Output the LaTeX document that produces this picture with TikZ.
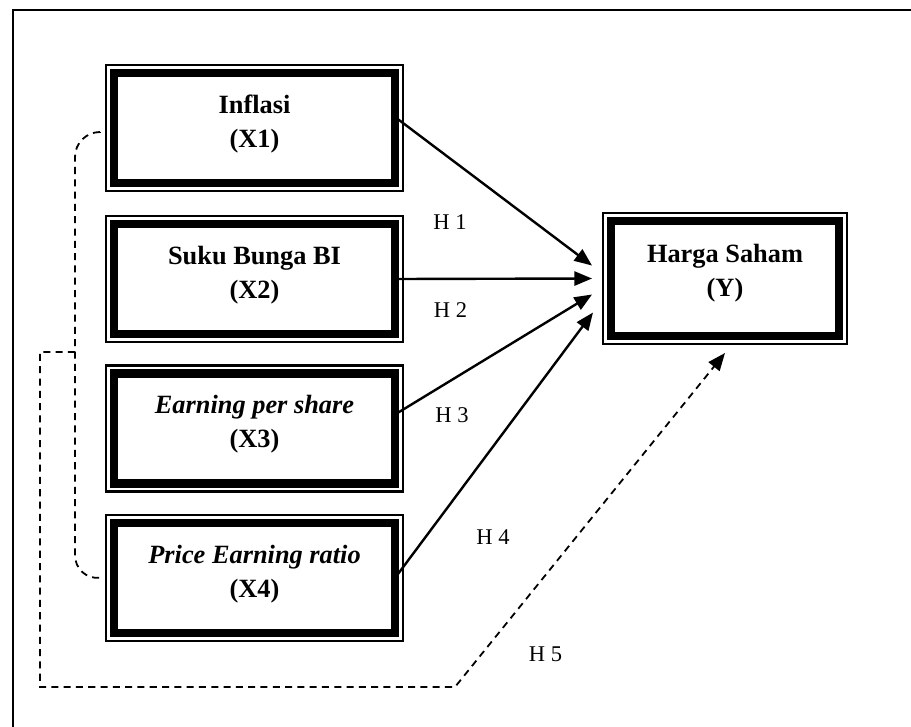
\documentclass[tikz,border=0pt]{standalone}
\usepackage{fontspec}
\setmainfont{Liberation Serif}
\usepackage{tikz}
\usetikzlibrary{arrows.meta}

\begin{document}
\begin{tikzpicture}[varbox/.style={draw, line width=0.174cm, minimum width=5.62cm, minimum height=2.2cm,
					inner sep=0pt, outer sep=0pt, align=center, text depth=8pt,
					font=\fontsize{15}{19.3}\selectfont\bfseries},
					outerline/.style={draw, line width=0.046cm},
					hyp/.style={font=\fontsize{12.8}{15}\selectfont, inner sep=0pt},
					dashline/.style={dash pattern=on 4pt off 3pt, line width=0.036cm},
					x=1cm, y=1cm, >={Triangle[length=10pt,width=8pt]}]   %Pfeilspitzen
	\useasboundingbox (0,0) rectangle (18.22,-14.52);
	\clip (0,0) rectangle (18.22,-14.52);
	\draw[line width=0.035cm] (0.26,-0.2) rectangle (19,-15);
	\node[varbox] (x1) at (5.09,-2.56) {Inflasi\\(X1)};
	\node[varbox] (x2) at (5.09,-5.58) {Suku Bunga BI\\(X2)};
	\node[varbox] (x3) at (5.09,-8.57) {\textit{Earning per share}\\(X3)};
	\node[varbox] (x4) at (5.09,-11.56) {\textit{Price Earning ratio}\\(X4)};
	\node[varbox, minimum width=4.56cm, minimum height=2.3cm, text depth=9pt] (y) at (14.5,-5.57) {Harga Saham\\(Y)};
	\foreach \n in {x1,x2,x3,x4,y}
		\draw[outerline] ([shift={(-0.16,0.16)}]\n.north west) rectangle ([shift={(0.16,-0.16)}]\n.south east);
	\draw[->, line width=0.048cm] ([yshift=0.22cm]x1.east) -- ([xshift=-0.38cm,yshift=0.26cm]y.west);
	\draw[->, line width=0.048cm] (x2.east) -- ([xshift=-0.38cm]y.west);
	\draw[->, line width=0.048cm] ([yshift=0.28cm]x3.east) -- ([xshift=-0.38cm,yshift=-0.32cm]y.west);
	\draw[->, line width=0.048cm] (x4.east) -- ([xshift=-0.36cm,yshift=-0.68cm]y.west);
	\draw[dashline, rounded corners=0.5cm] ([shift={(-0.28,-0.08)}]x1.west) -- (1.5,-2.64) -- (1.5,-11.6) -- ([xshift=-0.32cm]x4.west);
	\coordinate (brk) at (1.5,-7.04);
	\draw[dashline, ->] (brk) -- (0.8,-7.04) -- (0.8,-13.74) -- (9.1,-13.74) -- ([yshift=-0.34cm]y.south);
	\node[hyp] (h1) at (9.0,-4.45) {H 1};
	\node[hyp] (h2) at (9.01,-6.2) {H 2};
	\node[hyp] (h3) at (9.04,-8.3) {H 3};
	\node[hyp] (h4) at (9.86,-10.74) {H 4};
	\node[hyp] (h5) at (10.91,-13.09) {H 5};
\end{tikzpicture}
\end{document}
